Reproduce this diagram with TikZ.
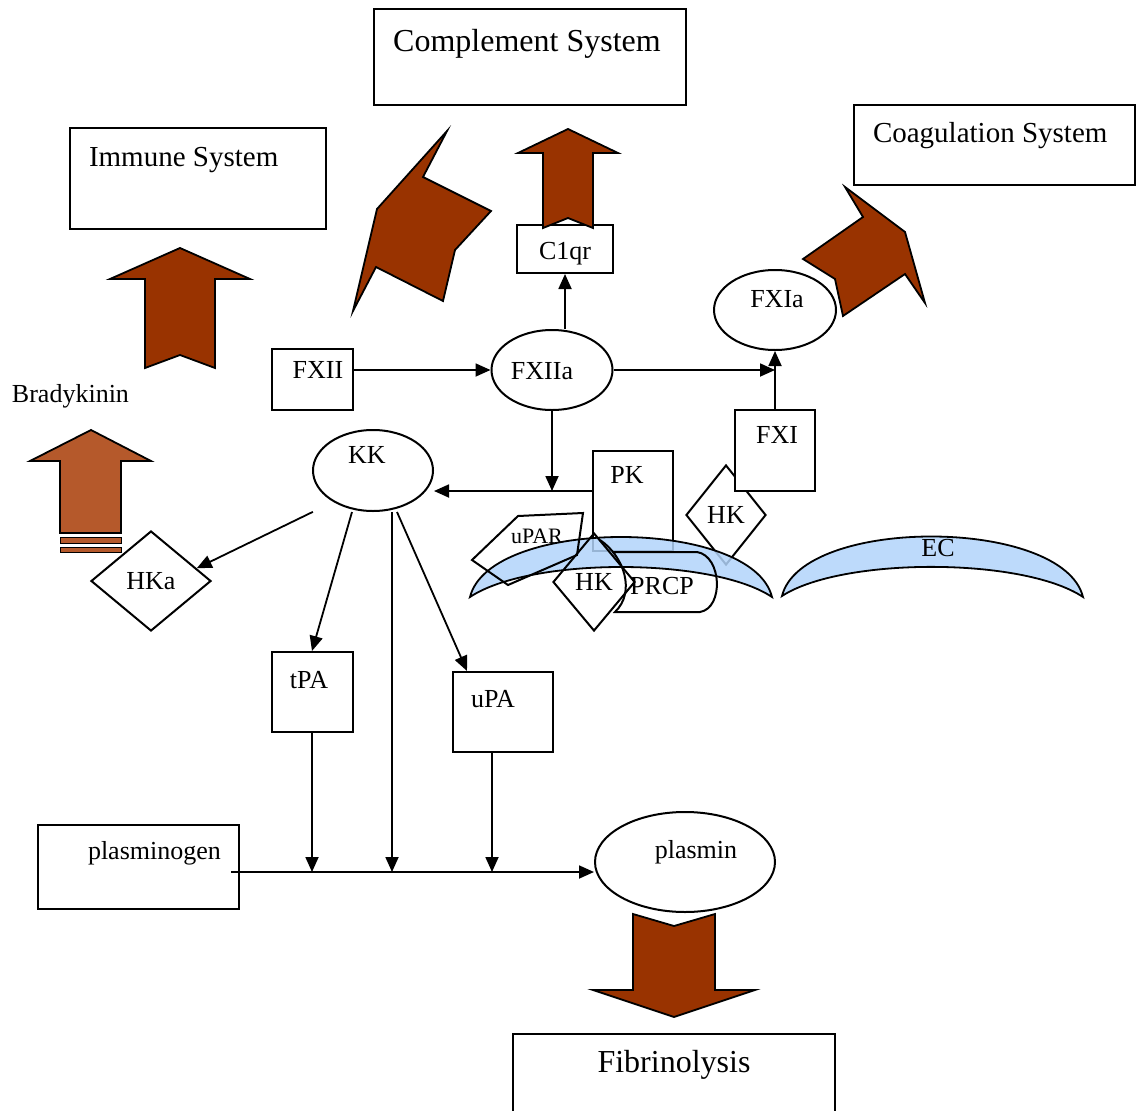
\documentclass[tikz,border=0pt]{standalone}
\usepackage{fontspec}
\setmainfont{Liberation Serif}
\usepackage{tikz}
\usetikzlibrary{positioning,arrows.meta,calc,shapes.geometric}
\definecolor{kinbrown}{HTML}{993300}
\definecolor{kincopper}{HTML}{B5592B}
\definecolor{membblue}{HTML}{B2D4FA}

\begin{document}
\begin{tikzpicture}[x=1pt,y=-1pt,line width=2pt,
  box/.style={draw,rectangle,inner sep=0pt},
  oval/.style={draw,ellipse,inner sep=0pt},
  kite/.style={draw,diamond,inner sep=0pt,font=\fontsize{26}{30}\selectfont},
  lbl/.style={inner sep=0pt,anchor=base,font=\fontsize{26}{30}\selectfont},
  syslbl/.style={inner sep=0pt,anchor=base west,font=\fontsize{29}{34}\selectfont},
  biglbl/.style={inner sep=0pt,anchor=base,font=\fontsize{32}{38}\selectfont},
  flow/.style={-{Triangle[length=15pt,width=13pt]},line width=1.8pt},
  fat/.style={draw,fill=kinbrown,line join=miter,line width=1.8pt},
  memb/.style={draw,fill=membblue,fill opacity=0.85,line width=1.8pt}]
  \useasboundingbox (0,0) rectangle (1136,1111);

  % behind the membrane
  \node[kite,minimum width=80pt,minimum height=100pt] (hkr) at (726,515) {HK};
  \node[box,minimum width=80pt,minimum height=100pt] (pk) at (633,501) {};
  \node[box,fill=white,minimum width=80pt,minimum height=81pt] (fxi) at (775,450.5) {};

  % endothelial cells
  \draw[memb] (470,597) .. controls (490,517) and (752,517) .. (772,597)
    .. controls (712,557) and (530,557) .. (470,597) -- cycle;
  \draw[memb] (782,596) .. controls (802,516) and (1063,517) .. (1083,597)
    .. controls (1023,557) and (842,557) .. (782,596) -- cycle;

  % receptors on the cell
  \draw (518,516) -- (583,513) -- (577,555) -- (508,585) -- (472,560) -- cycle;
  \node[kite,minimum width=82pt,minimum height=98pt] (hkl) at (594,582) {HK};
  \draw (600,540) .. controls (624,556) and (636,592) .. (615,612) -- (700,612)
    .. controls (724,608) and (722,556) .. (697,552) -- (612,552);

  % boxes and ovals
  \node[box,minimum width=312pt,minimum height=96pt] (cs) at (530,57) {};
  \node[box,minimum width=256pt,minimum height=101pt] (imm) at (198,178.5) {};
  \node[box,minimum width=281pt,minimum height=80pt] (coag) at (994.5,145) {};
  \node[box,minimum width=322pt,minimum height=90pt] (fib) at (674,1079) {};
  \node[box,minimum width=96pt,minimum height=48pt] (c1qr) at (565,249) {};
  \node[box,minimum width=81pt,minimum height=61pt] (fxii) at (312,379.5) {};
  \node[box,minimum width=81pt,minimum height=80pt] (tpa) at (312,692) {};
  \node[box,minimum width=100pt,minimum height=80pt] (upa) at (503,712) {};
  \node[box,minimum width=201pt,minimum height=84pt] (plg) at (138.5,867) {};
  \node[oval,minimum width=121pt,minimum height=80pt] (fxiia) at (552,370) {};
  \node[oval,minimum width=120pt,minimum height=81pt] (kk) at (373,470.5) {};
  \node[oval,minimum width=122pt,minimum height=80pt] (fxia) at (775,310) {};
  \node[oval,minimum width=180pt,minimum height=100pt] (plm) at (685,862) {};
  \node[kite,minimum width=120pt,minimum height=100pt] (hka) at (151,581) {HKa};

  % big arrows
  \draw[fat] (180,248) -- (250,279) -- (215,279) -- (215,368) -- (180,355) -- (145,368) -- (145,279) -- (110,279) -- cycle;
  \draw[fat] (568,129) -- (618,153) -- (593,153) -- (593,228) -- (568,218) -- (543,228) -- (543,153) -- (518,153) -- cycle;
  \draw[fat] (447,131) -- (423,177) -- (491,211) -- (455,250) -- (443,301) -- (376,267) -- (353,311) -- (377,209) -- cycle;
  \draw[fat] (845,187) -- (863,217) -- (803,259) -- (835,279) -- (843,316) -- (905,274) -- (925,303) -- (905,232) -- cycle;
  \draw[fat] (633,914) -- (674,926) -- (715,914) -- (715,990) -- (755,990) -- (674,1017) -- (593,990) -- (633,990) -- cycle;
  \draw[fat,fill=kincopper] (91,430) -- (151,461) -- (121,461) -- (121,533) -- (60,533) -- (60,461) -- (30,461) -- cycle;
  \draw[fat,fill=kincopper,line width=1pt] (60,537) rectangle (121,543);
  \draw[fat,fill=kincopper,line width=1pt] (60,547) rectangle (121,552);

  % texts
  \node[biglbl] (t-cs) at (527,51) {Complement System};
  \node[syslbl] (t-imm) at (88,166) {Immune System};
  \node[syslbl] (t-coag) at (872,142) {Coagulation System};
  \node[biglbl] (t-fib) at (674,1072) {Fibrinolysis};
  \node[lbl] (t-c1qr) at (565,259) {C1qr};
  \node[lbl] (t-fxii) at (318,378) {FXII};
  \node[lbl] (t-fxiia) at (542,379) {FXIIa};
  \node[lbl] (t-kk) at (367,463) {KK};
  \node[lbl] (t-fxia) at (777,307) {FXIa};
  \node[lbl] (t-fxi) at (777,443) {FXI};
  \node[lbl] (t-pk) at (627,483) {PK};
  \node[lbl] (t-tpa) at (309,688) {tPA};
  \node[lbl] (t-upa) at (493,707) {uPA};
  \node[lbl,anchor=base west] (t-plg) at (87,859) {plasminogen};
  \node[lbl] (t-plm) at (696,858) {plasmin};
  \node[lbl,anchor=base west] (t-brady) at (11,402) {Bradykinin};
  \node[lbl] (t-ec) at (938,556) {EC};
  \node[lbl,font=\fontsize{22}{26}\selectfont] (t-upar) at (537,543) {uPAR};
  \node[lbl] (t-prcp) at (662,594) {PRCP};

  % connectors
  \coordinate (bus) at ($(plg.east)+(-9,5)$);
  \coordinate (pkjoin) at ($(pk.west)+(0,-10)$);
  \coordinate (kkmid) at ($(kk.south)+(19,0)$);
  \coordinate (upaout) at ($(upa.south)+(-11,0)$);
  \draw[flow] (fxii.east |- fxiia.west) -- (fxiia.west);
  \draw[flow] (fxiia.east) -- (fxiia.east -| fxia.south);
  \draw[flow] (fxi.north) -- (fxia.south);
  \draw[flow] (c1qr.south |- fxiia.north) -- (c1qr.south);
  \draw[flow] (fxiia.south) -- (fxiia.south |- pkjoin);
  \draw[flow] (pkjoin) -- (pkjoin -| kk.east);
  \draw[flow] ($(kk.south west)+(-17,12)$) -- ($(hka.east)!0.25!(hka.north)$);
  \draw[flow] ($(kk.south)+(-21,0)$) -- (tpa.north);
  \draw[flow] (kkmid) -- (kkmid |- bus);
  \draw[flow] ($(kk.south)+(24,0)$) -- ($(upa.north west)+(15,0)$);
  \draw[flow] (tpa.south) -- (tpa.south |- bus);
  \draw[flow] (upaout) -- (upaout |- bus);
  \draw[flow] (bus) -- (bus -| plm.west);
\end{tikzpicture}
\end{document}
